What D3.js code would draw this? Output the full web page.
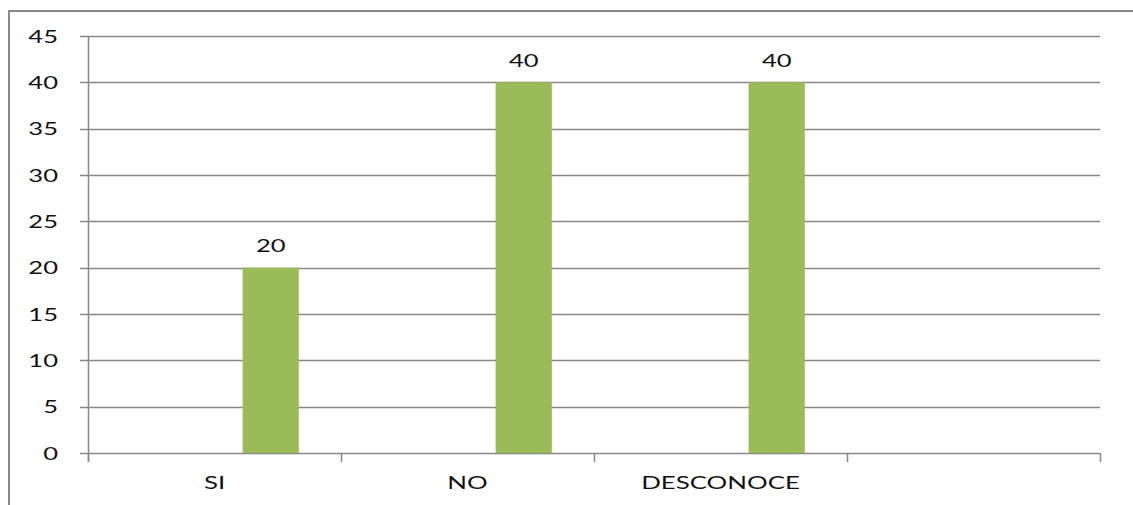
<!DOCTYPE html>
<html>
<head>
<meta charset="utf-8">
<script src="https://cdn.jsdelivr.net/npm/d3@7/dist/d3.min.js"></script>
<style>
  html, body { margin: 0; padding: 0; background: #fff; }
  svg { display: block; }
  text { font-family: Lato, "Open Sans", sans-serif; fill: #111; }
</style>
</head>
<body>
<svg id="chart" width="1133" height="505"></svg>
<script>
// Categories on the x axis (the last slot is empty)
const categories = ["SI", "NO", "DESCONOCE", ""];
// Series shown in each cluster; only the third one carries values
const seriesNames = ["s1", "s2", "s3"];
const values = [20, 40, 40, null];
const yTicks = [0, 5, 10, 15, 20, 25, 30, 35, 40, 45];

const W = 1133, H = 505;
const m = { left: 88, right: 33, top: 36, bottom: 52 };
const svg = d3.select("#chart");
const stretch = 1.42; // horizontal stretch of the lettering

const x = d3.scaleBand().domain(categories).range([m.left, W - m.right]).paddingInner(0).paddingOuter(0);
// Clustered layout: gap width of 150% around three bars
const bw = x.bandwidth() / 4.5;
const xs = d3.scaleBand().domain(seriesNames)
  .range([0.75 * bw, 3.75 * bw]).padding(0);
const y = d3.scaleLinear().domain([0, 45]).range([H - m.bottom, m.top]);

const gray = "#878787";

// Outer frame (top and left edges visible)
svg.append("path")
  .attr("d", `M9,${H} L9,11 L${W},11`)
  .attr("fill", "none").attr("stroke", gray).attr("stroke-width", 2);

// Horizontal gridlines with outside ticks
svg.append("g").selectAll("line").data(yTicks).join("line")
  .attr("x1", m.left - 8).attr("x2", W - m.right)
  .attr("y1", d => Math.round(y(d)) + 0.5).attr("y2", d => Math.round(y(d)) + 0.5)
  .attr("stroke", gray).attr("stroke-width", 1.3);

// Y axis line
svg.append("line")
  .attr("x1", m.left + 0.5).attr("x2", m.left + 0.5)
  .attr("y1", y(45)).attr("y2", y(0) + 9)
  .attr("stroke", gray).attr("stroke-width", 1.5);

// Category boundary ticks below the x axis
const bounds = categories.map(c => x(c)).concat([W - m.right]);
svg.append("g").selectAll("line").data(bounds).join("line")
  .attr("x1", d => Math.round(d) + 0.5).attr("x2", d => Math.round(d) + 0.5)
  .attr("y1", y(0)).attr("y2", y(0) + 9)
  .attr("stroke", gray).attr("stroke-width", 1.5);

// Y tick labels
svg.append("g").selectAll("text").data(yTicks).join("text")
  .attr("transform", d => `translate(58,${y(d) + 6.5}) scale(${stretch},1)`)
  .attr("text-anchor", "end")
  .style("font-size", "18px")
  .text(d => d);

// Bars
const barData = categories.map((c, i) => ({ c, v: values[i] })).filter(d => d.v != null);
svg.append("g").selectAll("rect").data(barData).join("rect")
  .attr("x", d => x(d.c) + xs("s3"))
  .attr("width", xs.bandwidth())
  .attr("y", d => y(d.v))
  .attr("height", d => y(0) - y(d.v))
  .attr("fill", "#9BBB59");

// Value labels
svg.append("g").selectAll("text").data(barData).join("text")
  .attr("transform", d => `translate(${x(d.c) + xs("s3") + xs.bandwidth() / 2},${y(d.v) - 15.5}) scale(${stretch},1)`)
  .attr("text-anchor", "middle")
  .style("font-size", "18px")
  .text(d => d.v);

// Category labels
svg.append("g").selectAll("text").data(categories).join("text")
  .attr("transform", d => `translate(${x(d) + x.bandwidth() / 2},489) scale(1.52,1)`)
  .attr("text-anchor", "middle")
  .style("font-size", "17px")
  .text(d => d);
</script>
</body>
</html>
